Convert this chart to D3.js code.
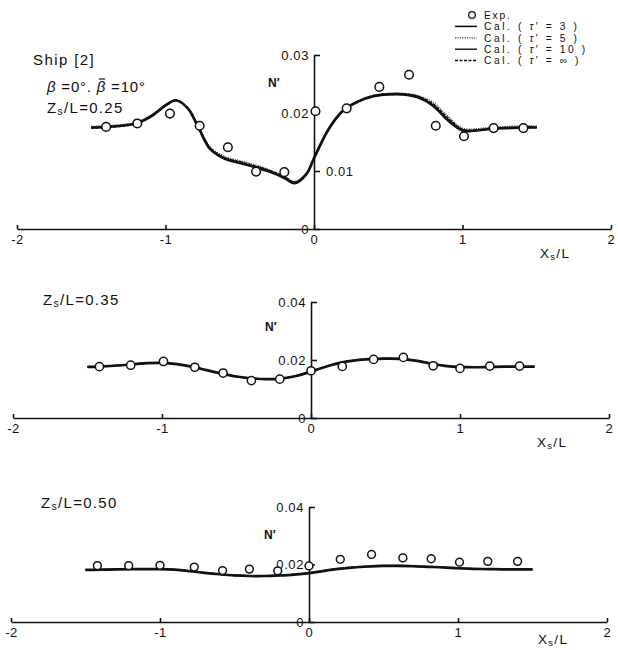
<!DOCTYPE html>
<html>
<head>
<meta charset="utf-8">
<script src="https://cdn.jsdelivr.net/npm/d3@7"></script>
<style>
  body { margin: 0; background: #fff; }
  text { font-family: 'Liberation Sans', Arial, sans-serif; fill: #111; }
</style>
</head>
<body>
<div id="chart"></div>
<script>
// ---- data ----
var xTicks = [-2, -1, 0, 1, 2];

// panel a : Zs/L = 0.25
var expX_a = [-1.40, -1.19, -0.97, -0.77, -0.58, -0.39, -0.20, 0.01, 0.22, 0.44, 0.64, 0.82, 1.01, 1.21, 1.41];
var expN_a = [0.0176, 0.0182, 0.0199, 0.0178, 0.0141, 0.0099, 0.0098, 0.0203, 0.0208, 0.0245, 0.0266, 0.0178, 0.0160, 0.0174, 0.0174];
var calX_a = [-1.5, -1.4, -1.3, -1.2, -1.1, -1.0, -0.93, -0.85, -0.78, -0.7, -0.6, -0.5, -0.4, -0.3, -0.2, -0.13, -0.05, 0, 0.1, 0.2, 0.3, 0.4, 0.5, 0.6, 0.7, 0.8, 0.9, 1.0, 1.1, 1.2, 1.3, 1.4, 1.5];
var cal3_a   = [0.0175, 0.0176, 0.0178, 0.0182, 0.0194, 0.0213, 0.0222, 0.0208, 0.0176, 0.0138, 0.0121, 0.0114, 0.0107, 0.0099, 0.0088, 0.0079, 0.0095, 0.0122, 0.0173, 0.0205, 0.0220, 0.0229, 0.0232, 0.0232, 0.0227, 0.0213, 0.0188, 0.0170, 0.0170, 0.0173, 0.0174, 0.0175, 0.0175];
var cal5_a   = [0.0177, 0.0178, 0.0180, 0.0184, 0.0195, 0.0213, 0.0221, 0.0209, 0.0179, 0.0142, 0.0125, 0.0118, 0.0111, 0.0102, 0.0091, 0.0082, 0.0096, 0.0121, 0.0171, 0.0204, 0.0220, 0.0230, 0.0234, 0.0234, 0.0230, 0.0219, 0.0195, 0.0174, 0.0173, 0.0176, 0.0177, 0.0178, 0.0178];
var cal10_a  = [0.0175, 0.0176, 0.0178, 0.0183, 0.0194, 0.0214, 0.0222, 0.0208, 0.0177, 0.0139, 0.0122, 0.0115, 0.0108, 0.0100, 0.0089, 0.0080, 0.0095, 0.0122, 0.0172, 0.0205, 0.0220, 0.0229, 0.0232, 0.0232, 0.0228, 0.0214, 0.0190, 0.0171, 0.0170, 0.0173, 0.0174, 0.0175, 0.0175];
var calInf_a = [0.0174, 0.0175, 0.0177, 0.0181, 0.0193, 0.0212, 0.0221, 0.0209, 0.0178, 0.0140, 0.0123, 0.0116, 0.0109, 0.0101, 0.0090, 0.0081, 0.0096, 0.0122, 0.0172, 0.0204, 0.0221, 0.0230, 0.0233, 0.0233, 0.0229, 0.0216, 0.0192, 0.0172, 0.0171, 0.0174, 0.0175, 0.0176, 0.0176];

// panel b : Zs/L = 0.35
var expX_b = [-1.42, -1.21, -0.99, -0.78, -0.59, -0.40, -0.21, 0, 0.21, 0.42, 0.62, 0.82, 1.00, 1.20, 1.40];
var expN_b = [0.0177, 0.0182, 0.0195, 0.0175, 0.0155, 0.0129, 0.0134, 0.0163, 0.0178, 0.0202, 0.0209, 0.0180, 0.0171, 0.0179, 0.0179];
var calX_b = [-1.5, -1.4, -1.3, -1.2, -1.1, -1.0, -0.9, -0.8, -0.7, -0.6, -0.5, -0.4, -0.3, -0.2, -0.1, 0, 0.1, 0.2, 0.3, 0.4, 0.5, 0.6, 0.7, 0.8, 0.9, 1.0, 1.1, 1.2, 1.3, 1.4, 1.5];
var cal3_b   = [0.0176, 0.0178, 0.0181, 0.0185, 0.0189, 0.0190, 0.0186, 0.0177, 0.0165, 0.0153, 0.0143, 0.0137, 0.0134, 0.0136, 0.0145, 0.0160, 0.0177, 0.0191, 0.0199, 0.0203, 0.0205, 0.0204, 0.0198, 0.0188, 0.0180, 0.0176, 0.0175, 0.0176, 0.0177, 0.0177, 0.0177];
var cal5_b   = [0.0177, 0.0179, 0.0182, 0.0186, 0.0190, 0.0191, 0.0187, 0.0178, 0.0166, 0.0154, 0.0144, 0.0138, 0.0135, 0.0137, 0.0145, 0.0160, 0.0177, 0.0191, 0.0200, 0.0204, 0.0206, 0.0205, 0.0200, 0.0190, 0.0181, 0.0177, 0.0176, 0.0177, 0.0178, 0.0178, 0.0178];
var cal10_b  = cal3_b;
var calInf_b = cal3_b;

// panel c : Zs/L = 0.50
var expX_c = [-1.42, -1.21, -1.00, -0.77, -0.58, -0.40, -0.21, 0, 0.21, 0.42, 0.63, 0.82, 1.01, 1.20, 1.40];
var expN_c = [0.0196, 0.0196, 0.0197, 0.0191, 0.0179, 0.0184, 0.0178, 0.0195, 0.0218, 0.0235, 0.0223, 0.0220, 0.0208, 0.0211, 0.0211];
var calX_c = [-1.5, -1.4, -1.3, -1.2, -1.1, -1.0, -0.9, -0.8, -0.7, -0.6, -0.5, -0.4, -0.3, -0.2, -0.1, 0, 0.1, 0.2, 0.3, 0.4, 0.5, 0.6, 0.7, 0.8, 0.9, 1.0, 1.1, 1.2, 1.3, 1.4, 1.5];
var cal3_c   = [0.0181, 0.0182, 0.0183, 0.0184, 0.0184, 0.0184, 0.0182, 0.0177, 0.0171, 0.0166, 0.0162, 0.0160, 0.0160, 0.0162, 0.0165, 0.0170, 0.0178, 0.0185, 0.0190, 0.0193, 0.0195, 0.0195, 0.0194, 0.0192, 0.0190, 0.0187, 0.0185, 0.0184, 0.0183, 0.0183, 0.0183];
var cal5_c   = [0.0181, 0.0182, 0.0183, 0.0184, 0.0184, 0.0184, 0.0182, 0.0178, 0.0172, 0.0167, 0.0163, 0.0161, 0.0161, 0.0163, 0.0166, 0.0171, 0.0179, 0.0187, 0.0192, 0.0196, 0.0198, 0.0198, 0.0197, 0.0195, 0.0192, 0.0189, 0.0186, 0.0185, 0.0184, 0.0183, 0.0183];
var cal10_c  = cal3_c;
var calInf_c = cal3_c;

var legendLabels = ["Exp.", "3", "5", "10", "\u221e"];

// ---- drawing ----
var width = 618, height = 650;
var svg = d3.select("#chart").append("svg")
    .attr("width", width)
    .attr("height", height);

// line styles for the four calculations
var styles = [
    {w: 2.7, dash: null},        // tau' = 3
    {w: 1.2, dash: "1.2,1.2"},   // tau' = 5
    {w: 1.4, dash: null},        // tau' = 10
    {w: 1.5, dash: "3,1.5"}      // tau' = inf
];

var panels = [
    {xr: [17, 611], base: 229, top: 55, ymax: 0.03, leftTicks: [0, 0.02, 0.03], rightTicks: [0.01], r: 4.3,
     expX: expX_a, expN: expN_a, calX: calX_a, cal: [cal3_a, cal5_a, cal10_a, calInf_a],
     zs: "0.25", zsPos: [47, 113], nPos: [268, 87], xlPos: [540, 258]},
    {xr: [13, 609], base: 418, top: 302, ymax: 0.04, leftTicks: [0, 0.02, 0.04], rightTicks: [], r: 4.1,
     expX: expX_b, expN: expN_b, calX: calX_b, cal: [cal3_b, cal5_b, cal10_b, calInf_b],
     zs: "0.35", zsPos: [43, 305], nPos: [265, 331], xlPos: [537, 447]},
    {xr: [11, 607], base: 622, top: 507, ymax: 0.04, leftTicks: [0, 0.02, 0.04], rightTicks: [], r: 3.9,
     expX: expX_c, expN: expN_c, calX: calX_c, cal: [cal3_c, cal5_c, cal10_c, calInf_c],
     zs: "0.50", zsPos: [41, 508], nPos: [264, 539], xlPos: [538, 644]}
];

function styleAxis(g) {
    g.select(".domain").attr("stroke", "#111").attr("stroke-width", 1.6);
    g.selectAll(".tick line").attr("stroke", "#111").attr("stroke-width", 1.6);
    g.selectAll(".tick text")
        .attr("fill", "#111")
        .style("font-family", "'Liberation Sans', Arial, sans-serif")
        .style("font-size", "13px")
        .style("letter-spacing", "0.6px");
}

// "Z<sub>s</sub>/L" style label
function subLabel(x, y, main, sub, rest, size) {
    var t = svg.append("text").attr("x", x).attr("y", y)
        .style("font-size", size + "px").style("letter-spacing", "1.3px");
    t.append("tspan").text(main);
    t.append("tspan").attr("font-size", (size * 0.7) + "px").attr("dy", 2).text(sub);
    t.append("tspan").attr("dy", -2).text(rest);
    return t;
}

panels.forEach(function(p) {
    var x = d3.scaleLinear().domain([-2, 2]).range(p.xr);
    var y = d3.scaleLinear().domain([0, p.ymax]).range([p.base, p.top]);
    var g = svg.append("g");

    // x axis, ticks pointing up
    var xAxis = d3.axisBottom(x)
        .tickValues(xTicks)
        .tickSizeInner(-4)
        .tickSizeOuter(0)
        .tickPadding(6)
        .tickFormat(function(d) { return d < 0 ? "-" + Math.abs(d) : d; });
    g.append("g").attr("transform", "translate(0," + p.base + ")").call(xAxis).call(styleAxis);

    // y axis at x = 0
    var yAxis = d3.axisLeft(y)
        .tickValues(p.leftTicks)
        .tickSizeInner(-6)
        .tickSizeOuter(0)
        .tickPadding(5)
        .tickFormat(function(d) { return d === 0 ? "0" : d3.format(".2f")(d); });
    g.append("g").attr("transform", "translate(" + x(0) + ",0)").call(yAxis).call(styleAxis);

    if (p.rightTicks.length) {
        var yAxisR = d3.axisRight(y)
            .tickValues(p.rightTicks)
            .tickSizeInner(6)
            .tickSizeOuter(0)
            .tickPadding(6)
            .tickFormat(d3.format(".2f"));
        var gr = g.append("g").attr("transform", "translate(" + x(0) + ",0)").call(yAxisR).call(styleAxis);
        gr.select(".domain").remove();
    }

    // calculated curves
    var line = d3.line()
        .x(function(d) { return x(d[0]); })
        .y(function(d) { return y(d[1]); })
        .curve(d3.curveCatmullRom.alpha(0.5));

    p.cal.forEach(function(vals, i) {
        g.append("path")
            .datum(d3.zip(p.calX, vals))
            .attr("d", line)
            .attr("fill", "none")
            .attr("stroke", i === 1 ? "#444" : "#111")
            .attr("stroke-width", styles[i].w)
            .attr("stroke-dasharray", styles[i].dash);
    });

    // experiments
    g.selectAll("circle.exp")
        .data(d3.zip(p.expX, p.expN))
        .enter()
        .append("circle")
        .attr("class", "exp")
        .attr("cx", function(d) { return x(d[0]); })
        .attr("cy", function(d) { return y(d[1]); })
        .attr("r", p.r)
        .attr("fill", "#fff")
        .attr("stroke", "#111")
        .attr("stroke-width", 1.5);

    // labels
    subLabel(p.zsPos[0], p.zsPos[1], "Z", "s", "/L=" + p.zs, 15);
    svg.append("text").attr("x", p.nPos[0]).attr("y", p.nPos[1])
        .style("font-size", "12px").style("font-weight", "bold").text("N\u2032");
    subLabel(p.xlPos[0], p.xlPos[1], "X", "s", "/L", 13.5);
});

// header text of the first panel
svg.append("text").attr("x", 33).attr("y", 65)
    .style("font-size", "15px").style("letter-spacing", "1.4px")
    .text("Ship [2]");

var bt = svg.append("text").attr("x", 47).attr("y", 92)
    .style("font-size", "15px").style("letter-spacing", "0.8px");
bt.append("tspan").attr("font-style", "italic").text("\u03b2");
bt.append("tspan").text(" =0\u00b0. ");
bt.append("tspan").attr("font-style", "italic").text("\u03b2");
bt.append("tspan").text(" =10\u00b0");
// bar over the second beta
var ext = bt.node().getExtentOfChar(7);
svg.append("line")
    .attr("x1", ext.x + 2).attr("x2", ext.x + ext.width - 1)
    .attr("y1", ext.y + 1).attr("y2", ext.y + 1)
    .attr("stroke", "#111").attr("stroke-width", 1.2);

// legend
var lg = svg.append("g");
legendLabels.forEach(function(lab, i) {
    var cy = 15 + i * 11.4;
    if (i === 0) {
        lg.append("circle").attr("cx", 472).attr("cy", cy).attr("r", 3.3)
            .attr("fill", "#fff").attr("stroke", "#111").attr("stroke-width", 1.3);
        lg.append("text").attr("x", 484).attr("y", cy + 3.8)
            .style("font-size", "10.2px").style("letter-spacing", "1.8px").text(lab);
    } else {
        var s = styles[i - 1];
        lg.append("line").attr("x1", 455).attr("x2", 477).attr("y1", cy).attr("y2", cy)
            .attr("stroke", i === 2 ? "#444" : "#111")
            .attr("stroke-width", Math.min(s.w, 1.6))
            .attr("stroke-dasharray", s.dash);
        var t = lg.append("text").attr("x", 484).attr("y", cy + 3.8)
            .style("font-size", "10.2px").style("letter-spacing", "2.6px")
            .style("white-space", "pre");
        t.append("tspan").text("Cal. ( ");
        t.append("tspan").attr("font-style", "italic").text("\u03c4");
        t.append("tspan").text("\u2032 = " + lab + " )");
    }
});
</script>
</body>
</html>
